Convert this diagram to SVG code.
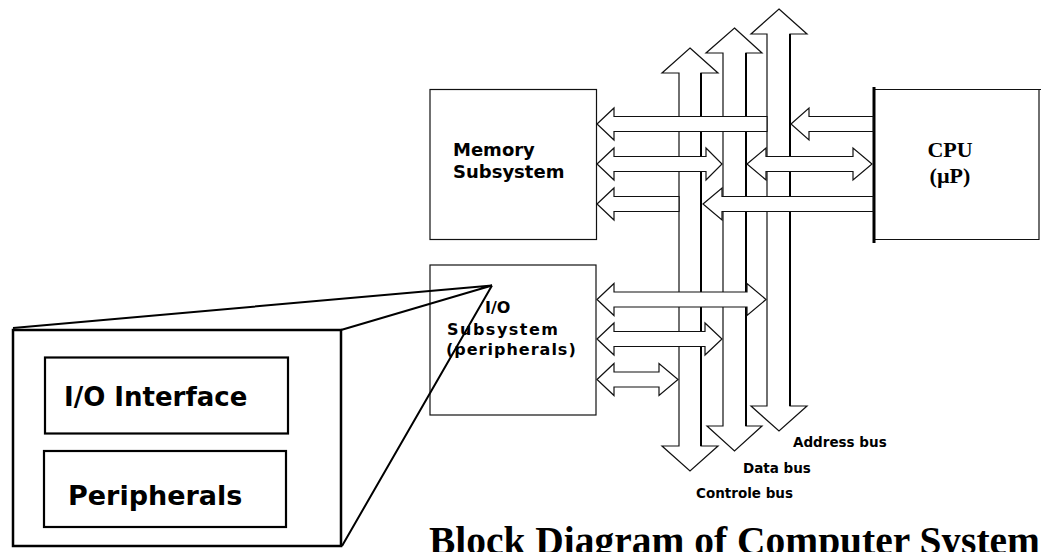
<svg xmlns="http://www.w3.org/2000/svg" width="1041" height="552" viewBox="0 0 1041 552">
<style>
.box{fill:#fff;stroke:#111;stroke-width:1.2}
.bus{fill:#fff;stroke:#111;stroke-width:1.2;stroke-linejoin:miter}
.arr{fill:#fff;stroke:#111;stroke-width:1.2}
.edge{stroke:#000;stroke-width:2}
.zoom{fill:#fff;stroke:#000;stroke-width:2.5}
.inner{fill:#fff;stroke:#000;stroke-width:2.2}
.persp{stroke:#000;stroke-width:2;fill:none}
.sans{font-family:"DejaVu Sans","Liberation Sans",sans-serif;font-weight:bold;fill:#000}
.serif{font-family:"Liberation Serif","Times New Roman",serif;font-weight:bold;fill:#000}
</style>
<rect width="1041" height="552" fill="#fff"/>

<g id="memory">
<rect class="box" x="430" y="89.5" width="166.5" height="150"/>
<text class="sans" x="453" y="156" font-size="18">Memory</text>
<text class="sans" x="453" y="178" font-size="18">Subsystem</text>
</g>

<g id="io-subsystem">
<rect class="box" x="430" y="265" width="166" height="150"/>
<text class="sans" x="485" y="313" font-size="16">I/O</text>
<text class="sans" x="447" y="335" font-size="16" letter-spacing="1.5">Subsystem</text>
<text class="sans" x="446" y="355" font-size="16" letter-spacing="1">(peripherals)</text>
</g>

<g id="cpu">
<path d="M873 89.5 H1041 M1039 89.5 V239.5 H873" fill="none" stroke="#111" stroke-width="1.2"/>
<line x1="874" y1="87" x2="874" y2="243" stroke="#000" stroke-width="3"/>
<text class="serif" x="950" y="157" font-size="22" text-anchor="middle">CPU</text>
<text class="serif" x="950" y="183" font-size="22" text-anchor="middle">(µP)</text>
</g>

<g id="connectors">
<g id="control-bus">
<polygon class="bus" points="690,48 718,73 701,73 701,446 718,446 690,471 662,446 679,446 679,73 662,73"/>
<line class="edge" x1="701" y1="73" x2="701" y2="446"/>
</g>
<g id="data-bus">
<polygon class="bus" points="734.5,28 762,53 746,53 746,426 762,426 734.5,451 707,426 723,426 723,53 706,53"/>
<line class="edge" x1="746" y1="53" x2="746" y2="426"/>
</g>
<g id="address-bus">
<polygon class="bus" points="779,9 807,34 790,34 790,406 807,406 779,431 751,406 767,406 767,34 751,34"/>
<line class="edge" x1="790" y1="34" x2="790" y2="406"/>
</g>

<polygon class="arr" points="597,124 614,108 614,116.5 767,116.5 767,131.5 614,131.5 614,140"/>
<polygon class="arr" points="597,164 614,148 614,156.5 706,156.5 706,148 722,164 706,180 706,171.5 614,171.5 614,180"/>
<polygon class="arr" points="597,204 614,188 614,196.5 679,196.5 679,211.5 614,211.5 614,220"/>

<polygon class="arr" points="791,124 809,108 809,116.5 873,116.5 873,131.5 809,131.5 809,140"/>
<polygon class="arr" points="747,164 766,148 766,156.5 853,156.5 853,148 872,164 853,180 853,171.5 766,171.5 766,180"/>
<polygon class="arr" points="703,204 722,188 722,196.5 873,196.5 873,211.5 722,211.5 722,220"/>

<polygon class="arr" points="597,299.5 614,283.5 614,292 747,292 747,283.5 766,299.5 747,315.5 747,307 614,307 614,315.5"/>
<polygon class="arr" points="597,339 614,323 614,331.5 705,331.5 705,323 722,339 705,355 705,346.5 614,346.5 614,355"/>
<polygon class="arr" points="597,379.5 614,363.5 614,372 659,372 659,363.5 678,379.5 659,395.5 659,387 614,387 614,395.5"/>

<text class="sans" x="793" y="447" font-size="13.5">Address bus</text>
<text class="sans" x="743" y="473" font-size="13.5">Data bus</text>
<text class="sans" x="696" y="498" font-size="13.5">Controle bus</text>
</g>

<g id="io-detail">
<rect class="zoom" x="13" y="330" width="328" height="216"/>
<g id="io-interface">
<rect class="inner" x="45" y="357.5" width="243" height="76"/>
<text class="sans" x="64" y="406" font-size="26">I/O Interface</text>
</g>
<g id="peripherals">
<rect class="inner" x="44" y="451" width="242" height="76"/>
<text class="sans" x="68" y="505" font-size="27">Peripherals</text>
</g>
<path class="persp" d="M13 328 L492 285.5 M341 330 L492 285.5 M342 546 L492 285.5"/>
</g>

<text class="serif" x="429" y="554" font-size="40" textLength="611" lengthAdjust="spacingAndGlyphs">Block Diagram of Computer System</text>
</svg>
